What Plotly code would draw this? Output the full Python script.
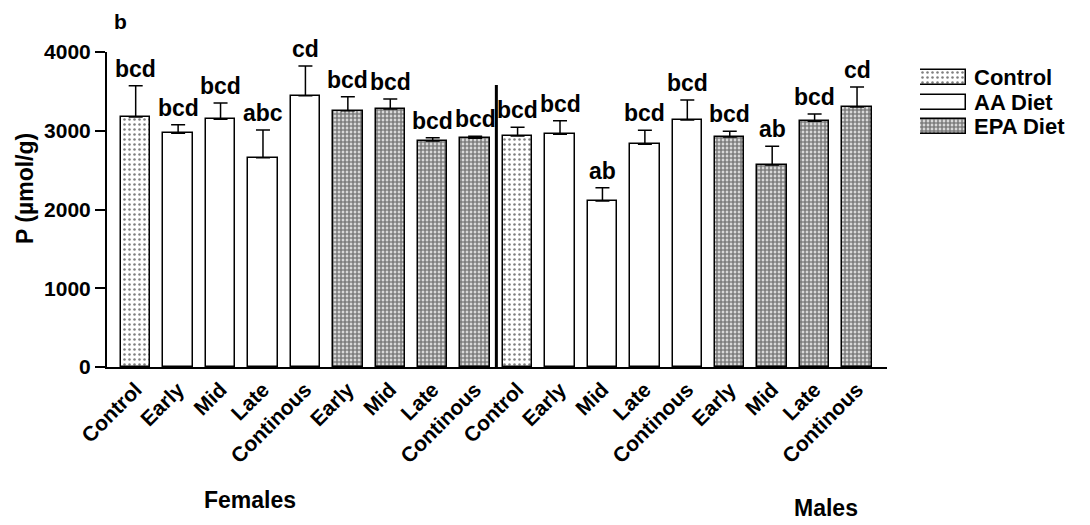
import plotly.graph_objects as go

# ---------------- data ----------------
categories = ["Control", "Early", "Mid", "Late", "Continous",
              "Early", "Mid", "Late", "Continous"]
diets = ["Control", "AA Diet", "AA Diet", "AA Diet", "AA Diet",
         "EPA Diet", "EPA Diet", "EPA Diet", "EPA Diet"]

female_mean = [3175, 2967, 3145, 2658, 3445, 3255, 3276, 2870, 2904]
female_sem = [397, 110, 207, 352, 377, 177, 127, 42, 25]
female_letters = ["bcd", "bcd", "bcd", "abc", "cd", "bcd", "bcd", "bcd", "bcd"]

male_mean = [2933, 2955, 2108, 2828, 3137, 2921, 2565, 3120, 3302]
male_sem = [111, 173, 169, 177, 253, 72, 237, 93, 254]
male_letters = ["bcd", "bcd", "ab", "bcd", "bcd", "bcd", "ab", "bcd", "cd"]

sex_groups = ["Females", "Males"]
legend_labels = ["Control", "AA Diet", "EPA Diet"]
y_ticks = [0, 1000, 2000, 3000, 4000]
y_title = "P (\u00b5mol/g)"
panel_label = "b"

# ---------------- styling ----------------
FONT = "Liberation Sans, Arial, Helvetica, sans-serif"
W, H = 1090, 525


def bold(size):
    return dict(family=FONT, size=size, color="black", weight="bold")


patterns = {
    "Control": dict(shape=".", size=5, solidity=0.2, fgcolor="black", bgcolor="white"),
    "AA Diet": dict(shape="", bgcolor="white"),
    "EPA Diet": dict(shape=".", size=4, solidity=0.75, fgcolor="black", bgcolor="white"),
}

all_cats = categories + categories
all_diets = diets + diets
all_mean = female_mean + male_mean
all_sem = female_sem + male_sem
all_letters = female_letters + male_letters
n = len(all_cats)
xs = list(range(n))

fig = go.Figure()

for diet in legend_labels:
    idx = [i for i in xs if all_diets[i] == diet]
    fig.add_trace(go.Bar(
        x=idx,
        y=[all_mean[i] for i in idx],
        width=0.695,
        marker=dict(color="white", line=dict(color="black", width=1.5),
                    pattern=patterns[diet]),
        error_y=dict(type="data", symmetric=False,
                     array=[all_sem[i] for i in idx],
                     arrayminus=[0] * len(idx),
                     color="black", thickness=1.5, width=7),
        showlegend=False, name=diet,
    ))

# significance letters
for i in xs:
    fig.add_annotation(x=i, y=all_mean[i] + all_sem[i], xref="x", yref="y",
                       text=all_letters[i], showarrow=False, yanchor="bottom",
                       xanchor="center", yshift=2, font=bold(23))

# separator between sexes
half = len(categories)
fig.add_shape(type="line", xref="x", yref="y", x0=half - 0.5, x1=half - 0.5,
              y0=0, y1=3580, line=dict(color="black", width=3))

# legend drawn as a small horizontal bar subplot
for k, diet in enumerate(legend_labels):
    fig.add_trace(go.Bar(
        y=[k], x=[1], orientation="h", width=0.61,
        marker=dict(color="white", line=dict(color="black", width=1.5),
                    pattern=patterns[diet]),
        xaxis="x2", yaxis="y2", showlegend=False, hoverinfo="skip",
    ))
    fig.add_annotation(x=972 / W, y=1 - (77.3 + 24.7 * k) / H, xref="paper", yref="paper",
                       text=diet, showarrow=False, xanchor="left", yanchor="middle",
                       font=bold(22))

# group labels
fig.add_annotation(x=250 / W, y=1 - 500 / H, xref="paper", yref="paper",
                   text=sex_groups[0], showarrow=False, xanchor="center",
                   yanchor="middle", font=bold(23))
fig.add_annotation(x=826 / W, y=1 - 508 / H, xref="paper", yref="paper",
                   text=sex_groups[1], showarrow=False, xanchor="center",
                   yanchor="middle", font=bold(23))

# y title and panel label
fig.add_annotation(x=25 / W, y=1 - 189 / H, xref="paper", yref="paper",
                   text=y_title, showarrow=False, textangle=-90,
                   xanchor="center", yanchor="middle", font=bold(23))
fig.add_annotation(x=120 / W, y=1 - 22 / H, xref="paper", yref="paper",
                   text=panel_label, showarrow=False, xanchor="center",
                   yanchor="middle", font=bold(21))

fig.update_layout(
    width=W, height=H, autosize=False,
    margin=dict(l=0, r=0, t=0, b=0, pad=0, autoexpand=False),
    paper_bgcolor="white", plot_bgcolor="white",
    bargap=0,
    font=dict(family=FONT, color="black"),
    xaxis=dict(domain=[107 / W, 887 / W], range=[-0.676, 17.706],
               tickvals=xs, ticktext=all_cats, tickangle=-45,
               tickfont=bold(21),
               ticks="", ticklen=0,
               showline=True, linecolor="black", linewidth=2, automargin=False,
               showgrid=False, zeroline=False, fixedrange=True),
    yaxis=dict(domain=[1 - 367 / H, 1 - 52 / H], range=[0, 4000],
               tickvals=y_ticks, ticks="outside", ticklen=10, tickwidth=2,
               tickcolor="black", automargin=False,
               tickfont=bold(21),
               showline=True, linecolor="black", linewidth=2,
               showgrid=False, zeroline=False),
    xaxis2=dict(domain=[920 / W, 966 / W], range=[0, 1], anchor="y2",
                visible=False, fixedrange=True, automargin=False),
    yaxis2=dict(domain=[1 - 139.1 / H, 1 - 65 / H], range=[2.5, -0.5], anchor="x2",
                visible=False, fixedrange=True, automargin=False),
)

fig.write_html("out.html")
